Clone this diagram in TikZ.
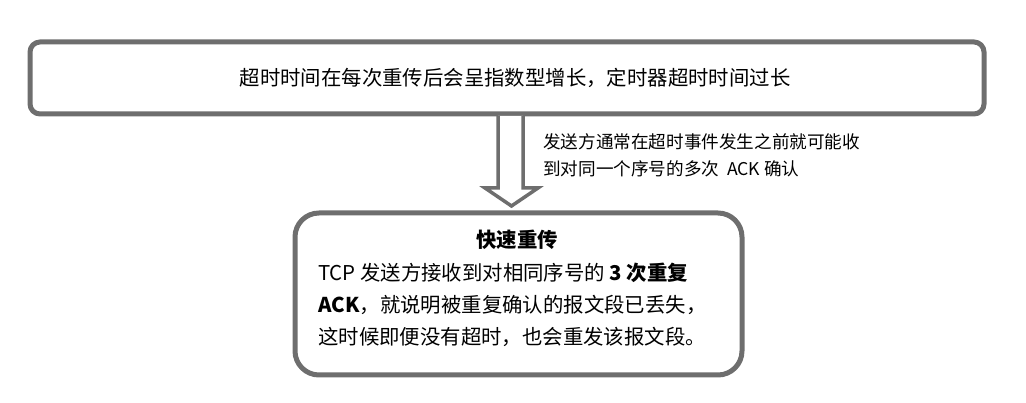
\documentclass[tikz,border=0pt]{standalone}
\usepackage{fontspec}
\setmainfont{Noto Sans CJK SC}
\definecolor{edgegray}{HTML}{6E6E6E}
\tikzset{
  boxstyle/.style={draw=edgegray, line width=5pt, inner sep=0pt, fill=white},
  arrowline/.style={draw=edgegray, line width=3.5pt, line join=miter, fill=white},
  bigtext/.style={anchor=base, inner sep=0pt, font=\fontsize{20.4}{24}\selectfont},
  lefttext/.style={anchor=base west, inner sep=0pt, font=\fontsize{20.4}{24}\selectfont},
  labeltext/.style={anchor=base west, inner sep=0pt, font=\fontsize{17.6}{22}\selectfont}
}
\begin{document}
\begin{tikzpicture}[x=1pt,y=-1pt]
\useasboundingbox (0,0) rectangle (1026,403);
% top box
\node[boxstyle, rounded corners=10pt, minimum width=954pt, minimum height=72pt] (top) at (507,78) {};
\node[bigtext] (toptext) at (515,86) {超时时间在每次重传后会呈指数型增长，定时器超时时间过长};
% bottom box
\node[boxstyle, rounded corners=24pt, minimum width=447pt, minimum height=162pt] (bot) at (518.5,294) {};
% hollow block arrow from top box to bottom box
\coordinate (tip) at (511.5,206);
\draw[arrowline] (498,116) -- (498,188) -- (485,188) -- (tip) -- (538,188) -- (523,188) -- (523,116);
% arrow label
\node[labeltext] (lab1) at (543,149) {发送方通常在超时事件发生之前就可能收};
\node[labeltext] (lab2) at (543,176) {到对同一个序号的多次~ ACK 确认};
% bottom text
\node[bigtext] (title) at (517,248) {\bfseries 快速重传};
\node[lefttext] (l1) at (318,281) {TCP 发送方接收到对相同序号的 \textbf{3 次重复}};
\node[lefttext] (l2) at (318,313) {\textbf{ACK}，就说明被重复确认的报文段已丢失，};
\node[lefttext] (l3) at (318,345) {这时候即便没有超时，也会重发该报文段。};
\end{tikzpicture}
\end{document}
